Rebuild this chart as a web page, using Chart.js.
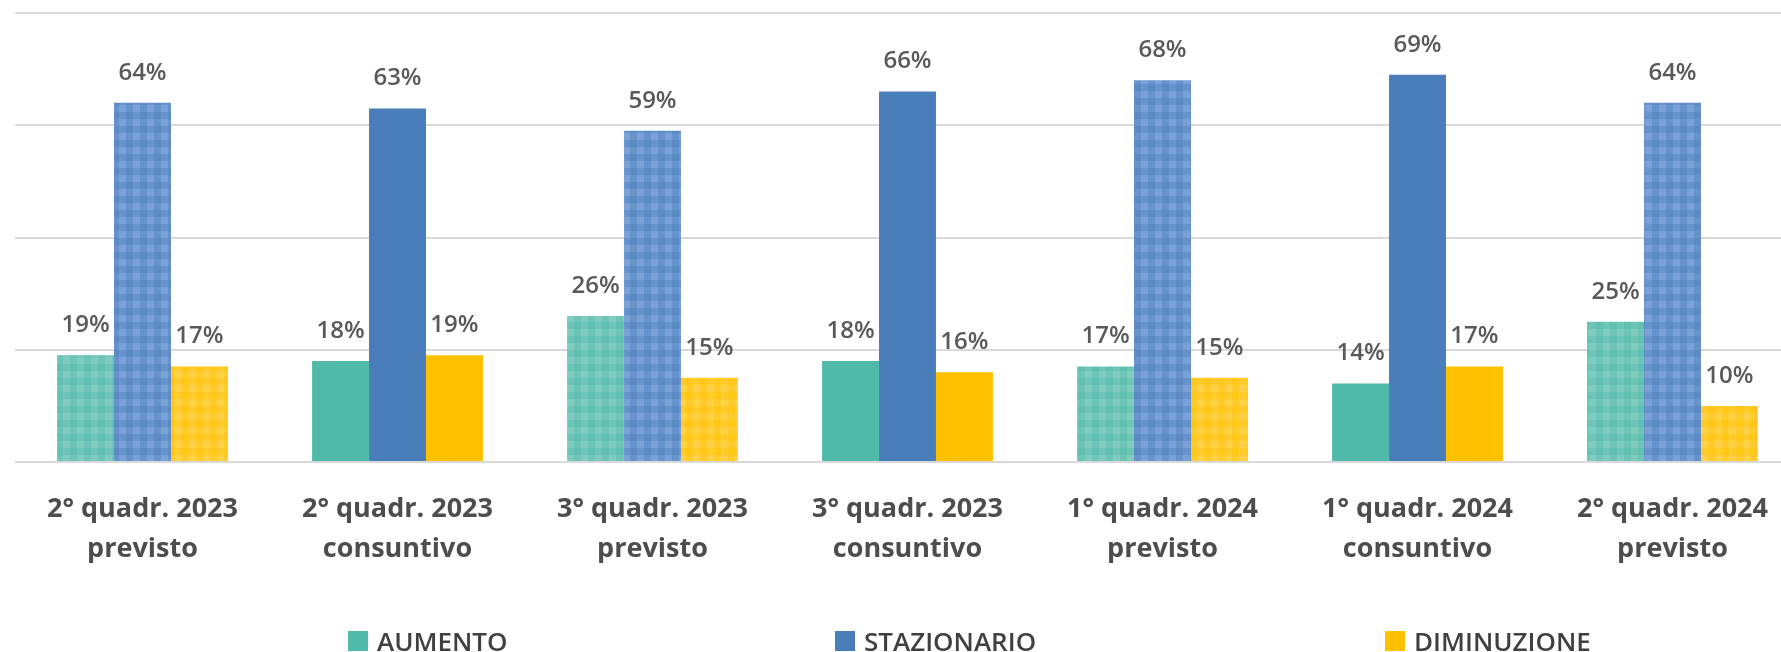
<!DOCTYPE html>
<html>
<head>
<meta charset="utf-8">
<script src="https://cdn.jsdelivr.net/npm/chart.js@4.4.1/dist/chart.umd.min.js"></script>
<style>
  html, body { margin: 0; padding: 0; background: #fff; overflow: hidden; width: 1781px; height: 652px; }
  #wrap { position: relative; width: 1781px; height: 652px; overflow: hidden; }
  #legend { position: absolute; left: 0; top: 0; width: 100%; height: 100%; pointer-events: none; }
  .item { position: absolute; top: 623px; display: flex; align-items: center; font: 600 26px "Open Sans", sans-serif; color: #404040; white-space: nowrap; }
  .item span.box { display: inline-block; width: 20px; height: 20px; margin-right: 9px; }
</style>
</head>
<body>
<div id="wrap">
  <canvas id="chart" width="1800" height="652"></canvas>
  <div id="legend"></div>
</div>
<script>
// periods and phase for each group of bars
const periodi = ['2° quadr. 2023', '2° quadr. 2023', '3° quadr. 2023', '3° quadr. 2023', '1° quadr. 2024', '1° quadr. 2024', '2° quadr. 2024'];
const fasi = ['previsto', 'consuntivo', 'previsto', 'consuntivo', 'previsto', 'consuntivo', 'previsto'];

// percentages
const aumento = [19, 18, 26, 18, 17, 14, 25];
const stazionario = [64, 63, 59, 66, 68, 69, 64];
const diminuzione = [17, 19, 15, 16, 15, 17, 10];

const yTicks = [0, 20, 40, 60, 80];

// legend box left edges
const legendX = [348, 835, 1385];

// checkered fill used for the "previsto" bars
function plaid(base, light) {
    const c = document.createElement('canvas');
    c.width = 14; c.height = 14;
    const g = c.getContext('2d');
    g.fillStyle = light;
    g.fillRect(0, 0, 14, 14);
    g.globalAlpha = 0.4;
    g.fillStyle = base;
    g.fillRect(0, 0, 7, 14);
    g.fillRect(0, 0, 14, 7);
    return g.createPattern(c, 'repeat');
}

function fills(solid, light) {
    const pat = plaid(solid, light);
    return fasi.map(f => f === 'previsto' ? pat : solid);
}

// value labels above every bar
const valueLabels = {
    id: 'valueLabels',
    afterDatasetsDraw(chart) {
        const ctx = chart.ctx;
        ctx.save();
        ctx.font = '600 24px "Open Sans", sans-serif';
        ctx.fillStyle = '#595959';
        ctx.textAlign = 'center';
        ctx.textBaseline = 'middle';
        chart.data.datasets.forEach((ds, i) => {
            chart.getDatasetMeta(i).data.forEach((bar, j) => {
                ctx.fillText(ds.data[j] + '%', bar.x, bar.y - 30);
            });
        });
        ctx.restore();
    }
};

const solidColors = ['#4fbaa9', '#4a7ebb', '#ffc000'];
const lightColors = ['#80cdc0', '#7ba2d8', '#ffd24a'];

const myChart = new Chart(document.getElementById('chart'), {
    type: 'bar',
    data: {
        labels: periodi.map((p, i) => [p, fasi[i]]),
        datasets: [
            { label: 'AUMENTO', data: aumento, backgroundColor: fills(solidColors[0], lightColors[0]) },
            { label: 'STAZIONARIO', data: stazionario, backgroundColor: fills(solidColors[1], lightColors[1]) },
            { label: 'DIMINUZIONE', data: diminuzione, backgroundColor: fills(solidColors[2], lightColors[2]) }
        ]
    },
    options: {
        responsive: false,
        animation: false,
        layout: { padding: { top: 13, bottom: 0, left: 0, right: 0 } },
        datasets: { bar: { categoryPercentage: 0.67, barPercentage: 1, borderWidth: 0 } },
        plugins: { legend: { display: false }, tooltip: { enabled: false } },
        scales: {
            x: {
                grid: { display: false, drawTicks: false },
                border: { display: false },
                ticks: {
                    padding: 27,
                    color: '#4d4d4d',
                    font: { family: '"Open Sans", sans-serif', size: 27, weight: '700', lineHeight: 1.48 },
                    maxRotation: 0
                },
                afterFit: s => { s.height = 190; }
            },
            y: {
                min: yTicks[0],
                max: yTicks[yTicks.length - 1],
                afterBuildTicks: s => { s.ticks = yTicks.map(v => ({ value: v })); },
                ticks: { display: false },
                grid: { color: '#d9d9d9', lineWidth: 2, drawTicks: false },
                border: { display: false },
                afterFit: s => { s.width = 15; }
            }
        }
    },
    plugins: [valueLabels]
});

// html legend built from the datasets
const legend = document.getElementById('legend');
myChart.data.datasets.forEach((ds, i) => {
    const item = document.createElement('div');
    item.className = 'item';
    item.style.left = legendX[i] + 'px';
    item.innerHTML = `<span class="box" style="background:${solidColors[i]}"></span>${ds.label}`;
    legend.appendChild(item);
});
</script>
</body>
</html>
